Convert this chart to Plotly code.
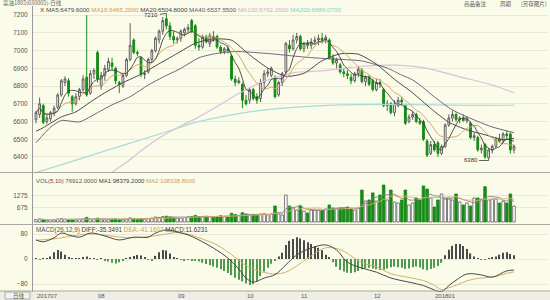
import plotly.graph_objects as go
import pandas as pd

# ---------------- data ----------------
open_ = [6610,6640,6690,6600,6615,6645,6680,6750,6820,6830,
         6740,6700,6740,6780,6850,6760,6870,6990,6800,6860,
         6895,6930,6900,6820,6800,6860,6950,7060,6990,6960,
         6865,6880,6950,7000,7060,7110,7180,7140,7080,7060,
         7070,7100,7120,7170,7140,7030,7020,7075,7040,7080,
         7080,7020,6995,7010,6970,6840,6820,6810,6720,6720,
         6780,6740,6730,6820,6870,6860,6850,6750,6820,6880,
         7030,7010,7060,7080,7010,7040,7030,7050,7060,7070,
         7060,7060,6960,6930,6920,6880,6870,6850,6830,6870,
         6890,6825,6850,6830,6780,6820,6780,6690,6700,6650,
         6700,6720,6690,6600,6625,6640,6600,6600,6490,6420,
         6470,6480,6420,6460,6580,6620,6640,6610,6620,6605,
         6590,6510,6510,6440,6470,6395,6440,6460,6500,6490,
         6530,6530,6440]
high_ = [6660,6735,6700,6640,6660,6690,6760,6840,6855,6845,
         6750,6760,6790,6860,7200,6890,6900,7000,6880,6920,
         6960,6960,6910,6830,6870,6960,7155,7070,7000,6970,
         6890,6960,7010,7080,7120,7190,7210,7160,7110,7080,
         7120,7130,7150,7180,7150,7070,7090,7090,7100,7110,
         7090,7030,7020,7030,6980,6860,6850,6820,6750,6790,
         6790,6760,6840,6890,6900,6910,6860,6830,6880,7050,
         7060,7090,7100,7090,7050,7060,7070,7080,7090,7100,
         7090,7070,6980,6960,6930,6900,6890,6870,6880,6910,
         6900,6860,6860,6840,6840,6840,6790,6720,6710,6720,
         6740,6740,6700,6640,6660,6650,6620,6610,6500,6490,
         6490,6490,6470,6590,6640,6660,6650,6630,6640,6630,
         6600,6540,6520,6470,6480,6450,6470,6510,6530,6540,
         6550,6540,6470]
low_ = [6590,6620,6585,6585,6600,6630,6670,6740,6800,6740,
        6655,6690,6720,6770,6740,6750,6840,6820,6780,6830,
        6880,6890,6810,6760,6790,6850,6940,6980,6970,6850,
        6840,6870,6930,6990,7040,7090,7120,7060,7040,7040,
        7050,7080,7100,7100,7010,7000,7010,7040,7020,7050,
        7010,6980,6980,6985,6830,6800,6810,6675,6690,6700,
        6720,6700,6710,6790,6850,6850,6730,6740,6800,6870,
        6990,7000,7040,7000,6990,7010,7010,7030,7030,7040,
        7040,6950,6920,6900,6870,6850,6840,6810,6820,6850,
        6815,6800,6800,6770,6770,6790,6680,6660,6640,6630,
        6680,6690,6580,6590,6610,6590,6580,6490,6400,6410,
        6430,6400,6410,6450,6570,6600,6600,6590,6600,6590,
        6500,6490,6430,6420,6390,6380,6420,6450,6480,6480,
        6500,6420,6420]
close_ = [6650,6700,6595,6620,6650,6675,6750,6830,6840,6760,
          6700,6740,6780,6840,6750,6870,6890,6840,6860,6900,
          6940,6910,6830,6810,6860,6950,7030,6990,6985,6865,
          6870,6950,7000,7070,7110,7170,7140,7080,7060,7070,
          7110,7120,7130,7110,7030,7020,7075,7050,7085,7070,
          7020,6995,7010,7000,6840,6820,6830,6720,6700,6780,
          6730,6720,6820,6870,6880,6900,6740,6820,6870,7040,
          7010,7060,7080,7010,7040,7030,7050,7060,7070,7060,
          7075,6960,6930,6950,6880,6870,6860,6830,6870,6895,
          6825,6850,6810,6780,6820,6810,6690,6700,6650,6700,
          6720,6710,6590,6625,6640,6600,6590,6500,6410,6470,
          6440,6420,6460,6580,6620,6640,6610,6620,6605,6615,
          6510,6520,6440,6450,6400,6440,6460,6500,6490,6530,
          6520,6440,6460]
volume = [12000,15000,11000,9000,12000,10000,14000,16000,13000,11000,
          10000,9000,12000,14000,22000,13000,12000,18000,11000,10000,
          12000,13000,15000,11000,10000,14000,20000,16000,12000,15000,
          13000,17000,19000,24000,22000,26000,28000,24000,21000,18000,
          20000,22000,25000,27000,32000,26000,24000,28000,25000,23000,
          27000,30000,26000,24000,42000,36000,30000,45000,38000,34000,
          36000,33000,38000,40000,35000,38000,77000,38600,33700,130000,
          77000,67500,57800,77000,53000,43400,57800,57800,57800,57800,
          62700,82000,67500,62700,67500,67500,72300,62700,57800,67500,
          154000,101000,106000,140000,101000,130000,178000,106000,154000,96400,
          91600,106000,154000,82000,91600,115700,106000,173500,159000,115700,
          72300,106000,135000,115700,115700,106000,135000,96400,82000,91600,
          77000,115700,115700,110000,170000,106000,110000,111000,91600,100000,
          91600,135000,76912]
macd_hist = [2,-2,1,3,8,22,29,24,14,5,
             2,1,2,4,8,3,2,-2,2,-5,
             -8,-12,-14,-10,-6,3,6,10,13,11,
             5,-3,-4,10,22,29,27,18,6,2,
             -2,-4,-3,-5,-5,-8,-12,-16,-20,-24,
             -28,-33,-38,-45,-52,-60,-66,-72,-78,-83,
             -80,-70,-55,-40,-28,-15,-5,8,20,45,
             58,64,70,66,60,54,48,42,36,28,
             14,4,-10,-25,-35,-40,-44,-45,-42,-38,
             -33,-30,-28,-30,-33,-35,-34,-30,-26,-24,
             -26,-28,-32,-30,-26,-24,-27,-33,-36,-32,
             -28,-22,-12,12,30,42,48,48,42,32,
             18,8,2,-2,-3,2,4,8,14,20,
             22,16,11.6231]

# moving-average lines (candle index, value)
ma20_idx = [0,2,7,11,15,19,24,29,34,39,44,49,54,59,64,69,74,79,84,89,94,99,104,109,114,119,124,129,132]
ma20_val = [6545,6565,6626,6654,6710,6762,6819,6867,6926,6984,7042,7066,7059,6976,6902,6855,6872,6943,6982,6980,6924,6838,6762,6674,6596,6553,6525,6498,6505]
ma40_idx = [0,4,7,12,17,21,26,31,35,40,45,50,55,60,65,70,75,80,85,90,94,97,101,104,107,110,115,121,126,132]
ma40_val = [6480,6568,6606,6598,6650,6694,6740,6806,6850,6900,6960,6985,6995,6990,6982,6972,6962,6955,6950,6942,6920,6902,6862,6835,6790,6739,6665,6609,6569,6537]
ma100_idx = [20,25,30,35,40,44,50,56,62,66,71,75,81,90,99,108,117,126,132]
ma100_val = [6300,6370,6450,6520,6575,6615,6685,6758,6820,6848,6875,6882,6890,6912,6918,6900,6852,6806,6762]
ma200_idx = [0,10,20,29,38,44,50,56,62,71,84,95,110,120,132]
ma200_val = [6312,6375,6440,6497,6555,6595,6622,6645,6663,6680,6694,6697,6694,6691,6692]
diff_idx = [0,2,5,7,9,12,15,18,20,23,27,31,33,36,39,42,45,49,53,56,58,60,63,66,69,72,76,80,83,86,90,94,98,103,107,110,112,114,116,119,123,126,130,132]
diff_val = [61,55,68,83,77,70,83,77,70,61,70,70,83,93,86,77,61,35,3,-32,-61,-74,-61,-50,-19,13,35,45,29,-10,-29,-42,-61,-74,-85,-99,-104,-85,-68,-48,-51,-58,-38,-35.3491]
dea_idx = [0,6,10,15,20,25,30,35,39,42,45,50,54,59,63,66,69,72,76,80,84,87,90,94,98,103,107,110,112,114,116,119,122,126,130,132]
dea_val = [60,66,74,80,75,68,70,78,85,80,68,45,14,-28,-43,-48,-42,-22,10,36,30,10,-12,-25,-47,-59,-69,-84,-98,-92,-84,-70,-62,-58,-46,-41.1607]

month_idx = [0,17,39,58,73,93,110]
month_lab = ["201707","08","09","10","11","12","201801"]
price_ticks = [6400,6500,6600,6700,6800,6900,7000,7100,7200]

price_legend = [("X", "#444444"), ("MA5:6479.6000", "#4a4a4a"), ("MA10:6465.2000", "#d09a50"),
                ("MA20:6504.8000", "#3c3c3c"), ("MA40:6537.5500", "#5c5470"),
                ("MA100:6762.2600", "#d4aacb"), ("MA200:6880.0700", "#7fcfc9")]
vol_legend = [("VOL(5,10) 76912.0000", "#555555"), ("MA1:98379.2000", "#3c3c3c"),
              ("MA2:108338.8000", "#d09a50")]
macd_legend = [("MACD(26,12,9)", "#555555"), ("DIFF:-35.3491", "#3c3c3c"),
               ("DEA:-41.1607", "#d09a50"), ("MACD:11.6231", "#3c3c3c")]

for arr in (open_, high_, low_, close_, volume, macd_hist):
    assert len(arr) == len(close_), len(arr)

# ---------------- figure ----------------
L, R, T, B = 33, 548, 6, 292
W, H = R - L, B - T
def px(x): return (x - L) / W
def py(y): return (B - y) / H

BG = "#fbfbe9"
GRID = "#e9e9d6"
UPL = "#5e5e5e"
DN = "#178a17"
idx = list(range(len(close_)))
up = [c >= o for o, c in zip(open_, close_)]

fig = go.Figure()
fig.add_trace(go.Candlestick(
    x=idx, open=open_, high=high_, low=low_, close=close_,
    increasing=dict(line=dict(color=UPL, width=1), fillcolor="#ffffff"),
    decreasing=dict(line=dict(color=DN, width=1), fillcolor=DN),
    whiskerwidth=0, xaxis="x", yaxis="y", hoverinfo="skip"))

cs = pd.Series(close_)
ma5 = cs.rolling(5, min_periods=1).mean()
ma10 = cs.rolling(10, min_periods=1).mean()
lines = [
    (ma200_idx, ma200_val, "#a9dcd6", 1.2),
    (ma100_idx, ma100_val, "#d8c0dc", 1.2),
    (ma40_idx, ma40_val, "#6e6480", 1),
    (ma20_idx, ma20_val, "#4a4a4a", 1),
    (idx, list(ma10), "#d2a460", 1),
    (idx, list(ma5), "#3a3a3a", 0.9),
]
for xs, ys, col, w in lines:
    fig.add_trace(go.Scatter(x=xs, y=ys, mode="lines", line=dict(color=col, width=w, shape="spline", smoothing=0.6),
                             xaxis="x", yaxis="y", hoverinfo="skip"))

# volume
vs = pd.Series(volume)
fig.add_trace(go.Bar(x=idx, y=volume, width=0.72,
                     marker=dict(color=["#ffffff" if u else DN for u in up],
                                 line=dict(color=[UPL if u else DN for u in up], width=0.8)),
                     xaxis="x", yaxis="y2", hoverinfo="skip"))
fig.add_trace(go.Scatter(x=idx, y=list(vs.rolling(5, min_periods=1).mean()), mode="lines",
                         line=dict(color="#8a8090", width=0.9), xaxis="x", yaxis="y2", hoverinfo="skip"))
fig.add_trace(go.Scatter(x=idx, y=list(vs.rolling(10, min_periods=1).mean()), mode="lines",
                         line=dict(color="#d8b070", width=0.9), xaxis="x", yaxis="y2", hoverinfo="skip"))

# MACD
fig.add_trace(go.Bar(x=idx, y=macd_hist, width=0.32,
                     marker=dict(color=["#4a4a4a" if v >= 0 else "#4f9a4f" for v in macd_hist], line=dict(width=0)),
                     xaxis="x", yaxis="y3", hoverinfo="skip"))
fig.add_trace(go.Scatter(x=dea_idx, y=dea_val, mode="lines", line=dict(color="#d2b070", width=1, shape="spline"),
                         xaxis="x", yaxis="y3", hoverinfo="skip"))
fig.add_trace(go.Scatter(x=diff_idx, y=diff_val, mode="lines", line=dict(color="#4a4a4a", width=1, shape="spline"),
                         xaxis="x", yaxis="y3", hoverinfo="skip"))

x0 = 0 - (36 - L) / 3.62
x1 = 132 + (R - 514) / 3.62
tickfont = dict(family="Liberation Sans", size=6.5, color="#555555")
yax = dict(showline=True, linecolor="#9a9a9a", linewidth=1, ticks="", tickfont=tickfont,
           gridcolor=GRID, gridwidth=1, zeroline=False, anchor="x", ticklabelstandoff=3, fixedrange=True)

fig.update_layout(
    width=550, height=300,
    margin=dict(l=L, r=550 - R, t=T, b=300 - B),
    paper_bgcolor=BG, plot_bgcolor=BG,
    showlegend=False, barmode="overlay",
    xaxis=dict(domain=[0, 1], range=[x0, x1], anchor="y3", showticklabels=False, showgrid=False,
               zeroline=False, showline=False, rangeslider=dict(visible=False)),
    yaxis=dict(domain=[py(172), 1], range=[6315, 7252], tickvals=price_ticks, **yax),
    yaxis2=dict(domain=[py(224), py(173)], range=[-9640, 236000], tickvals=[67500, 127500],
                ticktext=["675", "1275"], **yax),
    yaxis3=dict(domain=[0, py(225)], range=[-105.6, 108.8], tickvals=[-80, 0, 80], **yax),
)

shapes = []
for y in (172.5, 224.5):
    shapes.append(dict(type="line", xref="paper", yref="paper", x0=px(0), x1=px(550), y0=py(y), y1=py(y),
                       line=dict(color="#a8a8a0", width=1)))
shapes.append(dict(type="rect", xref="paper", yref="paper", x0=px(0), x1=px(550), y0=py(300), y1=py(291),
                   line=dict(width=0), fillcolor="#eeeee6", layer="below"))
shapes.append(dict(type="line", xref="paper", yref="paper", x0=px(0), x1=px(550), y0=py(291), y1=py(291),
                   line=dict(color="#a8a8a0", width=1)))
shapes.append(dict(type="rect", xref="paper", yref="paper", x0=px(5), x1=px(30), y0=py(299), y1=py(292),
                   line=dict(color="#9a9a9a", width=0.8), fillcolor="#f4f4ec"))
fig.update_layout(shapes=shapes)

ann = []
def txt(s, x, y, col, size=6.5, fam="Liberation Sans", anchor="left"):
    ann.append(dict(text=s, x=px(x), y=py(y), xref="paper", yref="paper", xanchor=anchor, yanchor="middle",
                    showarrow=False, font=dict(family=fam, size=size, color=col)))

def spans(items):
    return " ".join("<span style='color:%s'>%s</span>" % (c, s) for s, c in items)

txt("菜油1805(030005)-日线", 1, 3, "#666666", size=5.5, fam="Noto Sans CJK SC")
txt(spans(price_legend), 38, 9.5, "#444444", size=6.2)
txt(spans(vol_legend), 34, 180.5, "#444444", size=6)
txt(spans(macd_legend), 34, 229.5, "#444444", size=6.3)
txt("商品备注", 462, 4, "#555555", size=5.5, fam="Noto Sans CJK SC")
txt("周期", 498, 4, "#555555", size=5.5, fam="Noto Sans CJK SC")
txt("[另存图片]", 519, 4, "#555555", size=5.5, fam="Noto Sans CJK SC")
txt("日线", 11, 295.5, "#555555", size=5.5, fam="Noto Sans CJK SC")
for i, lab in zip(month_idx, month_lab):
    ann.append(dict(text=lab, x=i - 0.3, y=py(295.5), xref="x", yref="paper", xanchor="left", yanchor="middle",
                    showarrow=False, font=dict(family="Liberation Sans", size=6, color="#555555")))
# extreme-value marks
hi_i = high_.index(max(high_[30:45]), 30)
lo_i = low_.index(min(low_))
ann.append(dict(text=str(high_[hi_i]), x=hi_i, y=high_[hi_i], xref="x", yref="y", ax=-15, ay=2,
                showarrow=True, arrowhead=0, arrowwidth=0.8, arrowcolor="#333333",
                font=dict(family="Liberation Sans", size=6, color="#333333")))
ann.append(dict(text=str(low_[lo_i]), x=lo_i, y=low_[lo_i], xref="x", yref="y", ax=-18, ay=0,
                showarrow=True, arrowhead=0, arrowwidth=0.8, arrowcolor="#333333",
                font=dict(family="Liberation Sans", size=6, color="#333333")))
fig.update_layout(annotations=ann)

fig.write_html("out.html")
